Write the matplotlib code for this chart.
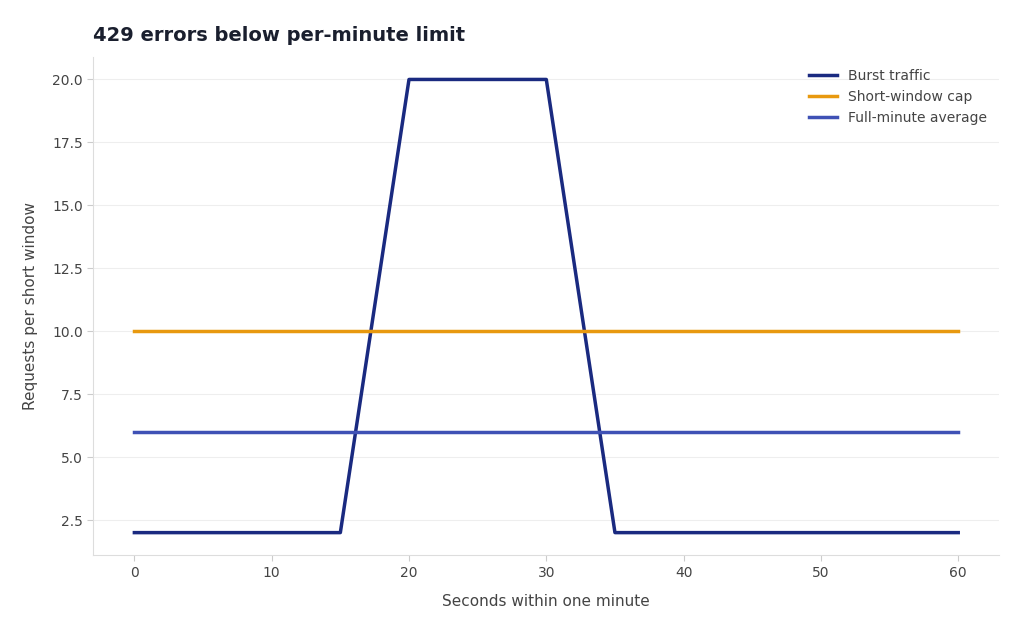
import matplotlib
matplotlib.use("Agg")
import matplotlib.pyplot as plt

seconds = [0, 5, 10, 15, 20, 25, 30, 35, 40, 45, 50, 55, 60]
burst = [2, 2, 2, 2, 20, 20, 20, 2, 2, 2, 2, 2, 2]
cap = [10] * 13
avg = [6] * 13

fig = plt.figure(figsize=(10.24, 6.31), dpi=100)
ax = fig.add_axes([0.091, 0.12, 0.885, 0.79])
ax.plot(seconds, burst, color="#1a2a80", lw=2.5, label="Burst traffic")
ax.plot(seconds, cap, color="#e8990f", lw=2.5, label="Short-window cap")
ax.plot(seconds, avg, color="#3f51b5", lw=2.5, label="Full-minute average")
ax.set_xlim(-3, 63)
ax.set_ylim(1.1, 20.9)
ax.set_yticks([2.5, 5, 7.5, 10, 12.5, 15, 17.5, 20])
ax.set_xticks([0, 10, 20, 30, 40, 50, 60])
ax.grid(axis="y", color="#eeeeee", lw=0.8)
ax.set_axisbelow(True)
for s in ["top", "right"]:
    ax.spines[s].set_visible(False)
for s in ["left", "bottom"]:
    ax.spines[s].set_color("#dddddd")
ax.tick_params(colors="#444444", labelsize=10, length=4)
ax.tick_params(axis="both", color="#cccccc")
ax.set_xlabel("Seconds within one minute", fontsize=11, color="#444444", labelpad=10)
ax.set_ylabel("Requests per short window", fontsize=11, color="#444444", labelpad=10)
fig.text(0.091, 0.935, "429 errors below per-minute limit", fontsize=14, fontweight="bold", color="#1a1f2e")
leg = ax.legend(loc="upper right", frameon=False, fontsize=10)
for t in leg.get_texts():
    t.set_color("#444444")
fig.savefig("out.png", dpi=100)
